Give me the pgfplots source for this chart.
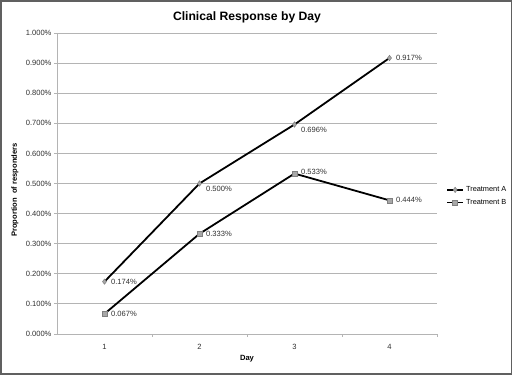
\documentclass[border=0pt]{standalone}
\usepackage{pgfplots}
\pgfplotsset{compat=1.18}
\usepackage{fontspec}
\setmainfont{Liberation Sans}
\definecolor{gridc}{HTML}{B4B4B4}
\definecolor{framec}{HTML}{606060}
\definecolor{markfill}{HTML}{A8A8A8}
\definecolor{markdraw}{HTML}{808080}
\definecolor{labc}{HTML}{303030}
\pgfplotstableread{
x y dy
1 0.174 0
2 0.500 -5
3 0.696 -5
4 0.917 0
}\tA
\pgfplotstableread{
x y dy
1 0.067 0
2 0.333 0
3 0.533 2
4 0.444 0
}\tB
\begin{document}
\begin{tikzpicture}
\path[use as bounding box] (0,0) rectangle (513bp,375bp);
\draw[color=framec, line width=1.8bp] (1bp,1bp) rectangle (511.5bp,374bp);
\begin{axis}[
  at={(57bp,41bp)}, anchor=south west,
  scale only axis, width=380bp, height=301bp,
  xmin=0.5, xmax=4.5, ymin=0, ymax=1,
  axis lines*=left,
  axis line style={color=gridc, line width=0.8bp},
  xtick={1,2,3,4},
  minor xtick={1.5,2.5,3.5,4.5},
  ytick={0,0.1,0.2,0.3,0.4,0.5,0.6,0.7,0.8,0.9,1.0},
  yticklabel={\pgfmathprintnumber[fixed,fixed zerofill,precision=3]{\tick}\%},
  /pgf/number format/assume math mode=true,
  ymajorgrids,
  grid style={color=gridc, line width=0.8bp},
  tick align=outside,
  major tick length=3bp,
  minor tick length=3bp,
  xtick style={draw=none},
  minor x tick style={draw=gridc, line width=0.8bp},
  ytick style={color=gridc, line width=0.8bp},
  ticklabel style={font=\fontsize{7.6}{8.6}\selectfont, color=labc},
  yticklabel style={xshift=1bp},
  xticklabel style={yshift=-4bp},
  clip=false,
  nodes near coords={\pgfmathprintnumber[fixed,fixed zerofill,precision=3]{\pgfplotspointmeta}\%},
  point meta=y,
  visualization depends on={\thisrow{dy} \as \dy},
  nodes near coords style={anchor=west, xshift=3bp, yshift=\dy, font=\fontsize{7.6}{8.6}\selectfont, color=labc},
  legend style={at={(1.016,0.458)}, anchor=west, draw=none, fill=none,
    font=\fontsize{7.4}{8.4}\selectfont, row sep=2bp, cells={anchor=west}},
  legend image code/.code={
    \draw[#1] (0bp,0bp) -- (16bp,0bp);
    \path[#1, solid] plot coordinates {(8bp,0bp)};
  },
]
\addplot[black, line width=1.8bp, mark=diamond*, mark size=2.7bp,
  mark options={fill=markfill, draw=markdraw, line width=0.5bp}]
  table[x=x, y=y] {\tA};
\addlegendentry{Treatment A}
\addplot[black, line width=1.8bp, mark=square*, mark size=2.5bp,
  mark options={fill=markfill, draw=markdraw, line width=0.5bp}]
  table[x=x, y=y] {\tB};
\addlegendentry{Treatment B}
\end{axis}
\node[font=\bfseries\fontsize{12.2}{14}\selectfont] at (247bp,358bp) {Clinical Response by Day};
\node[font=\bfseries\fontsize{7.6}{8.6}\selectfont] at (247bp,16bp) {Day};
\node[font=\bfseries\fontsize{7.6}{8.6}\selectfont, rotate=90] at (15bp,185bp) {Proportion\ \ of responders};
\end{tikzpicture}
\end{document}
